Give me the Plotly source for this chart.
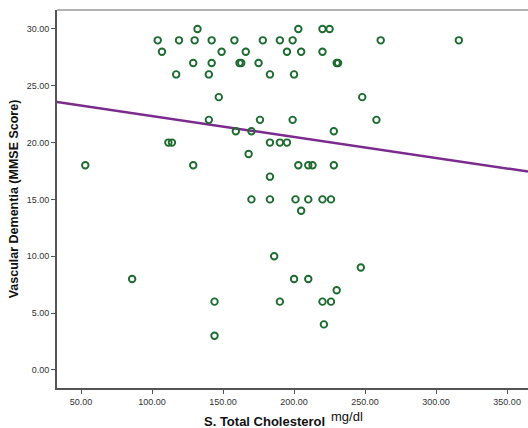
import numpy as np
import plotly.graph_objects as go

# Serum total cholesterol (mg/dl) and MMSE score
cholesterol = [132, 203, 220, 225,
               104, 119, 130, 142, 158, 178, 190, 199, 261, 316,
               107, 149, 166, 195, 205, 220,
               129, 142, 161.6, 162.8, 175, 230, 231,
               117, 140, 183, 200,
               147, 248,
               140, 176, 199, 258,
               159, 170, 228,
               111.5, 114, 183, 190, 195,
               168,
               53, 129, 203, 210, 213, 228,
               183,
               170, 183, 201, 210, 220, 226,
               205,
               186,
               247,
               86, 200, 210,
               230,
               144, 190, 220, 226,
               221,
               144]
mmse = [30, 30, 30, 30,
        29, 29, 29, 29, 29, 29, 29, 29, 29, 29,
        28, 28, 28, 28, 28, 28,
        27, 27, 27, 27, 27, 27, 27,
        26, 26, 26, 26,
        24, 24,
        22, 22, 22, 22,
        21, 21, 21,
        20, 20, 20, 20, 20,
        19,
        18, 18, 18, 18, 18, 18,
        17,
        15, 15, 15, 15, 15, 15,
        14,
        10,
        9,
        8, 8, 8,
        7,
        6, 6, 6, 6,
        4,
        3]

x_ticks = [50, 100, 150, 200, 250, 300, 350]
y_ticks = [0, 5, 10, 15, 20, 25, 30]

x_range = [33.1, 364.7]
y_range = [-1.6, 31.67]

x_title = "S. Total Cholesterol"
x_unit = "mg/dl"
y_title = "Vascular Dementia (MMSE Score)"

slope, intercept = np.polyfit(cholesterol, mmse, 1)
fit_x = np.array(x_range)
fit_y = intercept + slope * fit_x

fig = go.Figure()
fig.add_trace(go.Scatter(
    x=fit_x, y=fit_y, mode="lines",
    line=dict(color="#7b2a8e", width=2.5),
    hoverinfo="skip", showlegend=False))
fig.add_trace(go.Scatter(
    x=cholesterol, y=mmse, mode="markers",
    marker=dict(symbol="circle-open", size=6.5, color="#1d6b30",
                line=dict(width=1.9, color="#1d6b30")),
    showlegend=False))

fam = "Liberation Sans, Arial, sans-serif"
tick_font = dict(family=fam, size=9, color="#333333")
title_font = dict(family=fam, size=13, color="#111111")
fig.update_layout(
    width=528, height=428,
    margin=dict(l=57, r=0, t=10, b=40),
    paper_bgcolor="white", plot_bgcolor="white",
    font=tick_font,
    xaxis=dict(range=x_range, tickvals=x_ticks, tickformat=".2f",
               showgrid=False, zeroline=False, showline=True,
               linecolor="#555555", linewidth=2, ticks="outside",
               ticklen=4, tickcolor="#555555", tickfont=tick_font),
    yaxis=dict(range=y_range, tickvals=y_ticks, tickformat=".2f",
               showgrid=False, zeroline=False, showline=True,
               linecolor="#555555", linewidth=2, ticks="outside",
               ticklen=4, tickcolor="#555555", tickfont=tick_font,
               title=dict(text="<b>" + y_title + "</b>",
                          font=dict(family=fam, size=12.5, color="#111111"),
                          standoff=5)),
    shapes=[dict(type="line", xref="paper", yref="paper", x0=0, x1=1, y0=1, y1=1,
                 line=dict(color="#999999", width=1.5))],
    annotations=[
        dict(text="<b>" + x_title + "</b>", xref="paper", yref="paper",
             x=0.4406, y=-0.0899, xanchor="center", yanchor="middle",
             showarrow=False, font=title_font),
        dict(text=x_unit, xref="paper", yref="paper",
             x=0.6157, y=-0.0767, xanchor="center", yanchor="middle",
             showarrow=False, font=title_font),
    ],
)

fig.write_html("out.html", config={"displayModeBar": False},
               post_script="document.body.style.margin='0';document.body.style.overflow='hidden';")
